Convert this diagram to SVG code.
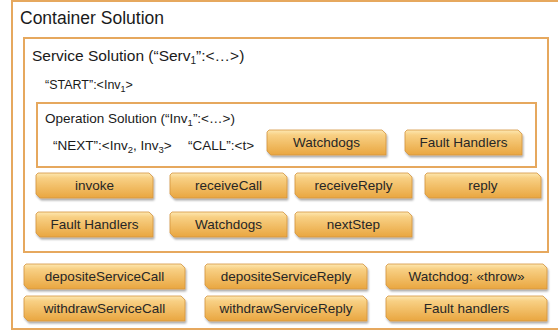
<svg xmlns="http://www.w3.org/2000/svg" width="558" height="333" viewBox="0 0 558 333">
<style>
.frame{fill:none;stroke:#e6a85e;stroke-width:2}
.t{font-family:"Liberation Sans",Arial,sans-serif;fill:#1a1a1a}
.bt{font-family:"Liberation Sans",Arial,sans-serif;font-size:13.5px;fill:#262626;text-anchor:middle}
.btn{fill:url(#g);stroke:#d4943e;stroke-width:0.8;filter:url(#sh)}
</style>
<defs>
<linearGradient id="g" x1="0" y1="0" x2="0" y2="1">
<stop offset="0" stop-color="#fde8b2"/>
<stop offset="0.2" stop-color="#f8d084"/>
<stop offset="1" stop-color="#e9a640"/>
</linearGradient>
<filter id="sh" x="-5%" y="-10%" width="115%" height="140%">
<feGaussianBlur in="SourceAlpha" stdDeviation="1.2"/>
<feOffset dx="1" dy="2" result="o"/>
<feComponentTransfer><feFuncA type="linear" slope="0.35"/></feComponentTransfer>
<feMerge><feMergeNode/><feMergeNode in="SourceGraphic"/></feMerge>
</filter>
</defs>
<g id="container">
<rect class="frame" x="12" y="1" width="560" height="328"/>
<text class="t" x="20" y="24" font-size="17.5">Container Solution</text>
</g>
<g id="service">
<rect class="frame" x="24" y="38" width="524" height="214"/>
<text class="t" x="32" y="61" font-size="15.5">Service Solution (“Serv<tspan font-size="10" dy="3">1</tspan><tspan dy="-3">”:&lt;…&gt;)</tspan></text>
<text class="t" x="45" y="89" font-size="12.5">“START”:&lt;Inv<tspan font-size="9" dy="3">1</tspan><tspan dy="-3">&gt;</tspan></text>
</g>
<g id="operation">
<rect class="frame" x="37" y="103" width="499" height="64"/>
<text class="t" x="45" y="123" font-size="13.5">Operation Solution (“Inv<tspan font-size="9.5" dy="3">1</tspan><tspan dy="-3">”:&lt;…&gt;)</tspan></text>
<text class="t" x="53" y="150" font-size="13.5">“NEXT”:&lt;Inv<tspan font-size="9.5" dy="3">2</tspan><tspan dy="-3">, Inv</tspan><tspan font-size="9.5" dy="3">3</tspan><tspan dy="-3">&gt;</tspan></text>
<text class="t" x="188" y="150" font-size="13.5">“CALL”:&lt;t&gt;</text>
</g>
<g id="op-watchdogs"><path class="btn" d="M269,130 H382 L386,134 V155 H271 L267,151 V132 Z"/><text class="bt" x="326.5" y="147">Watchdogs</text></g>
<g id="op-fault"><path class="btn" d="M407,130 H518 L522,134 V155 H409 L405,151 V132 Z"/><text class="bt" x="463.5" y="147">Fault Handlers</text></g>
<g id="invoke"><path class="btn" d="M38,173 H149 L153,177 V198 H40 L36,194 V175 Z"/><text class="bt" x="94.5" y="190">invoke</text></g>
<g id="receiveCall"><path class="btn" d="M172,173 H283 L287,177 V198 H174 L170,194 V175 Z"/><text class="bt" x="228.5" y="190">receiveCall</text></g>
<g id="receiveReply"><path class="btn" d="M297,173 H408 L412,177 V198 H299 L295,194 V175 Z"/><text class="bt" x="353.5" y="190">receiveReply</text></g>
<g id="reply"><path class="btn" d="M427,173 H537 L541,177 V198 H429 L425,194 V175 Z"/><text class="bt" x="483" y="190">reply</text></g>
<g id="svc-fault"><path class="btn" d="M38,212 H149 L153,216 V237 H40 L36,233 V214 Z"/><text class="bt" x="94.5" y="229">Fault Handlers</text></g>
<g id="svc-watchdogs"><path class="btn" d="M172,212 H283 L287,216 V237 H174 L170,233 V214 Z"/><text class="bt" x="228.5" y="229">Watchdogs</text></g>
<g id="nextStep"><path class="btn" d="M297,212 H408 L412,216 V237 H299 L295,233 V214 Z"/><text class="bt" x="353.5" y="229">nextStep</text></g>
<g id="depositeServiceCall"><path class="btn" d="M26,264 H181 L185,268 V289 H28 L24,285 V266 Z"/><text class="bt" x="104.5" y="281">depositeServiceCall</text></g>
<g id="depositeServiceReply"><path class="btn" d="M207,264 H363 L367,268 V289 H209 L205,285 V266 Z"/><text class="bt" x="286" y="281">depositeServiceReply</text></g>
<g id="watchdog-throw"><path class="btn" d="M388,264 H543 L547,268 V289 H390 L386,285 V266 Z"/><text class="bt" x="466.5" y="281">Watchdog: «throw»</text></g>
<g id="withdrawServiceCall"><path class="btn" d="M26,296 H181 L185,300 V321 H28 L24,317 V298 Z"/><text class="bt" x="104.5" y="313">withdrawServiceCall</text></g>
<g id="withdrawServiceReply"><path class="btn" d="M207,296 H363 L367,300 V321 H209 L205,317 V298 Z"/><text class="bt" x="286" y="313">withdrawServiceReply</text></g>
<g id="fault-handlers"><path class="btn" d="M388,296 H543 L547,300 V321 H390 L386,317 V298 Z"/><text class="bt" x="466.5" y="313">Fault handlers</text></g>
<g id="connectors"/>
</svg>
